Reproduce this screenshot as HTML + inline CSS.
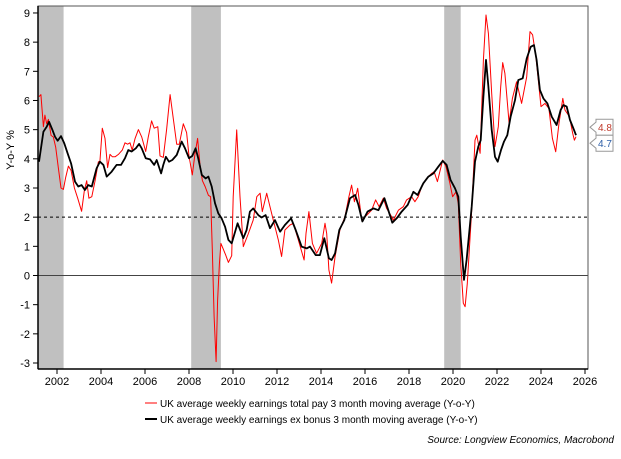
<!DOCTYPE html>
<html><head><meta charset="utf-8"><style>
body{margin:0;background:#fff;font-family:"Liberation Sans",Arial,sans-serif}
svg text{font-family:"Liberation Sans",Arial,sans-serif}
</style></head><body>
<svg id="c" width="621" height="454" xmlns="http://www.w3.org/2000/svg">
<g id="bands"></g>
<g id="grid"></g>
<g id="series"></g>
<g id="axes"></g>
<text x="14" y="150" font-size="11" text-anchor="middle" transform="rotate(-90 14 150)">Y-o-Y %</text>
<g>
<g><line x1="145" y1="403" x2="157" y2="403" stroke="#ff0000" stroke-width="1"/><text x="160" y="407" font-size="10">UK average weekly earnings total pay 3 month moving average (Y-o-Y)</text></g>
<g><line x1="145" y1="419" x2="157" y2="419" stroke="#000" stroke-width="2"/><text x="160" y="423" font-size="10">UK average weekly earnings ex bonus 3 month moving average (Y-o-Y)</text></g>
</g>
<text x="614" y="443" font-size="10" font-style="italic" text-anchor="end">Source: Longview Economics, Macrobond</text>
<g id="callouts"></g>
</svg>
<script>
const yTicks=[-3,-2,-1,0,1,2,3,4,5,6,7,8,9];
const xTicks=[2002,2004,2006,2008,2010,2012,2014,2016,2018,2020,2022,2024,2026];
const recessions=[[2001.14,2002.3],[2008.1,2009.45],[2019.6,2020.35]];
const totalPayYears=[2001.18,2001.27,2001.38,2001.45,2001.53,2001.61,2001.73,2001.83,2001.94,2002.06,2002.18,2002.29,2002.39,2002.52,2002.64,2002.79,2002.94,2003.12,2003.24,2003.35,2003.45,2003.58,2003.73,2003.88,2003.95,2004.06,2004.18,2004.30,2004.41,2004.52,2004.64,2004.79,2004.97,2005.09,2005.21,2005.32,2005.42,2005.55,2005.70,2005.85,2006.03,2006.15,2006.30,2006.42,2006.58,2006.68,2006.83,2006.98,2007.14,2007.29,2007.44,2007.56,2007.74,2007.89,2008.00,2008.15,2008.27,2008.39,2008.50,2008.61,2008.73,2008.88,2008.98,2009.06,2009.14,2009.23,2009.30,2009.38,2009.45,2009.56,2009.67,2009.79,2009.94,2010.01,2010.17,2010.32,2010.47,2010.70,2010.92,2011.08,2011.23,2011.33,2011.53,2011.68,2011.83,2012.06,2012.21,2012.36,2012.59,2012.74,2012.97,2013.23,2013.32,2013.45,2013.61,2013.80,2014.03,2014.18,2014.26,2014.36,2014.48,2014.64,2014.86,2015.09,2015.27,2015.39,2015.52,2015.67,2015.85,2016.08,2016.30,2016.48,2016.64,2016.83,2016.98,2017.17,2017.29,2017.52,2017.74,2017.89,2018.12,2018.27,2018.42,2018.58,2018.80,2019.03,2019.14,2019.29,2019.53,2019.68,2019.86,2019.98,2020.14,2020.24,2020.35,2020.47,2020.55,2020.65,2020.85,2021.00,2021.08,2021.23,2021.38,2021.50,2021.61,2021.76,2021.91,2022.06,2022.17,2022.26,2022.36,2022.55,2022.70,2022.89,2023.12,2023.35,2023.50,2023.62,2023.77,2024.00,2024.18,2024.36,2024.52,2024.67,2024.82,2024.99,2025.09,2025.29,2025.44,2025.52,2025.59];
const totalPayValues=[6.13,6.2,5.1,5.5,5.2,5.35,4.8,4.75,4.4,3.7,3.0,2.95,3.35,3.75,3.6,3.0,2.65,2.2,2.9,3.25,2.65,2.7,3.25,3.9,3.9,5.05,4.7,3.7,4.15,4.07,4.07,4.15,4.3,4.55,4.5,4.55,4.3,4.7,5.0,4.75,4.25,4.75,5.3,5.05,5.1,4.1,4.05,5.0,6.2,5.35,4.5,4.5,5.2,4.9,4.1,3.45,4.15,4.7,3.8,3.25,3.05,2.75,2.7,0.9,-1.4,-2.95,-0.85,0.4,1.1,0.9,0.7,0.45,0.68,2.7,4.99,2.7,0.99,1.44,1.9,2.7,2.82,2.19,2.82,2.36,1.9,1.22,0.65,1.56,1.73,1.79,1.22,0.53,1.44,2.19,1.1,0.76,1.1,1.79,1.44,0.19,-0.26,0.65,1.56,2.02,2.7,3.1,2.53,2.99,1.9,2.07,2.24,2.59,2.36,2.65,2.3,2.07,1.9,2.24,2.36,2.59,2.7,2.53,2.7,3.05,3.33,3.5,3.56,3.22,3.96,3.73,3.16,2.7,2.87,2.47,0.42,-0.95,-1.07,-0.27,2.24,4.64,4.81,4.19,7.39,8.93,8.3,6.24,4.42,5.1,6.47,7.3,6.93,5.22,6.07,6.64,5.9,6.81,8.36,8.25,7.5,5.79,5.9,5.73,4.7,4.24,5.22,6.07,5.67,5.45,4.87,4.64,4.76];
const exBonusYears=[2001.18,2001.38,2001.53,2001.64,2001.79,2001.91,2002.03,2002.18,2002.33,2002.48,2002.64,2002.82,2002.97,2003.12,2003.27,2003.42,2003.58,2003.80,2003.95,2004.11,2004.26,2004.48,2004.71,2004.91,2005.09,2005.24,2005.39,2005.58,2005.73,2005.85,2006.03,2006.23,2006.42,2006.53,2006.73,2006.83,2006.95,2007.09,2007.24,2007.44,2007.67,2007.82,2008.00,2008.15,2008.30,2008.42,2008.58,2008.76,2008.88,2009.03,2009.18,2009.33,2009.48,2009.64,2009.79,2009.94,2010.21,2010.47,2010.62,2010.77,2010.92,2011.15,2011.30,2011.48,2011.68,2011.91,2012.14,2012.36,2012.64,2012.85,2013.12,2013.35,2013.50,2013.76,2013.95,2014.15,2014.36,2014.48,2014.64,2014.83,2015.06,2015.32,2015.55,2015.70,2015.88,2016.12,2016.38,2016.61,2016.88,2017.06,2017.24,2017.44,2017.67,2017.94,2018.20,2018.39,2018.65,2018.88,2019.11,2019.33,2019.53,2019.71,2019.89,2020.09,2020.24,2020.35,2020.50,2020.62,2020.85,2021.00,2021.15,2021.26,2021.38,2021.50,2021.61,2021.76,2021.91,2022.03,2022.18,2022.32,2022.47,2022.62,2022.82,2022.97,2023.17,2023.35,2023.53,2023.68,2023.80,2023.95,2024.11,2024.29,2024.49,2024.71,2024.89,2025.02,2025.17,2025.32,2025.50,2025.59];
const exBonusValues=[3.9,4.93,5.1,5.27,4.99,4.76,4.62,4.78,4.53,4.19,3.84,3.22,3.05,3.1,2.93,3.1,3.05,3.67,3.9,3.79,3.39,3.56,3.79,3.79,4.02,4.3,4.25,4.36,4.51,4.36,4.02,3.98,3.79,3.96,3.5,3.79,4.07,3.9,3.96,4.13,4.59,4.36,4.02,4.1,4.36,4.02,3.45,3.33,3.39,3.05,2.48,2.13,1.96,1.67,1.22,1.1,1.79,1.28,1.56,2.19,2.3,2.07,1.99,2.07,1.62,1.9,1.5,1.73,1.96,1.56,0.99,0.93,0.99,0.7,0.7,1.28,0.59,0.53,0.76,1.56,1.9,2.65,2.76,2.42,1.85,2.19,2.3,2.24,2.65,2.24,1.81,1.96,2.19,2.42,2.87,2.76,3.16,3.39,3.5,3.73,3.93,3.79,3.27,2.99,2.7,1.33,-0.15,0.53,2.36,3.9,4.42,4.64,6.13,7.39,6.47,4.99,4.07,3.9,4.3,4.59,4.81,5.44,6.01,6.7,6.76,7.44,7.84,7.9,7.39,6.36,6.07,5.9,5.44,5.16,5.67,5.84,5.79,5.33,4.99,4.81];
const lastLabels=["4.8","4.7"];

const NS="http://www.w3.org/2000/svg";
const L=38,R=588,T=6,B=369;
const X=y=>35+(y-2001)*22;
const Y=v=>275.5-v*29.17;
function mk(tag,attrs,parent){const e=document.createElementNS(NS,tag);for(const k in attrs)e.setAttribute(k,attrs[k]);parent.appendChild(e);return e;}
const bands=document.getElementById('bands'),grid=document.getElementById('grid'),ser=document.getElementById('series'),ax=document.getElementById('axes'),co=document.getElementById('callouts');
recessions.forEach(r=>{const x0=Math.max(L,X(r[0]));const e=mk('rect',{x:x0,y:T,width:X(r[1])-x0,height:B-T,fill:'#c0c0c0'},bands);

});
const dl=mk('line',{x1:L,x2:R,y1:Y(2),y2:Y(2),stroke:'#000','stroke-dasharray':'3,3','stroke-width':1},grid);


const zl=mk('line',{x1:L,x2:R,y1:Y(0),y2:Y(0),stroke:'#444','stroke-width':1},grid);


function path(xs,vs){return xs.map((x,i)=>(i?'L':'M')+X(x).toFixed(1)+','+Y(vs[i]).toFixed(1)).join('');}
const p1=mk('path',{d:path(totalPayYears,totalPayValues),fill:'none',stroke:'#ff0000','stroke-width':1,'stroke-linejoin':'round'},ser);


const p2=mk('path',{d:path(exBonusYears,exBonusValues),fill:'none',stroke:'#000','stroke-width':1.8,'stroke-linejoin':'round'},ser);


const fr=mk('rect',{x:L,y:T,width:R-L,height:B-T,fill:'none',stroke:'#555','stroke-width':1},ax);


mk('line',{x1:L,x2:L,y1:T,y2:B,stroke:'#000','stroke-width':1.5},ax);
mk('line',{x1:L,x2:R,y1:B,y2:B,stroke:'#000','stroke-width':1.5},ax);
yTicks.forEach(v=>{mk('line',{x1:L-5,x2:L,y1:Y(v),y2:Y(v),stroke:'#000'},ax);
const t=mk('text',{x:L-8,y:Y(v)+4,'font-size':11,'text-anchor':'end'},ax);t.textContent=v;

});
xTicks.forEach(v=>{mk('line',{x1:X(v),x2:X(v),y1:B,y2:B+5,stroke:'#000'},ax);
const t=mk('text',{x:X(v),y:B+16,'font-size':11,'text-anchor':'middle'},ax);t.textContent=v;

});
const cols=['#c0392b','#2e5fa8'];
[Y(exBonusValues[exBonusValues.length-1])-16,Y(exBonusValues[exBonusValues.length-1])].forEach((cy,i)=>{
const g=mk('g',{},co);


mk('path',{d:`M590,${cy+8}L596,${cy+3}L596,${cy}L613,${cy}L613,${cy+16}L596,${cy+16}L596,${cy+13}Z`,fill:'#fff',stroke:'#999'},g);
const t=mk('text',{x:598,y:cy+12,'font-size':10,fill:cols[i]},g);t.textContent=lastLabels[i];});
</script>
</body></html>
